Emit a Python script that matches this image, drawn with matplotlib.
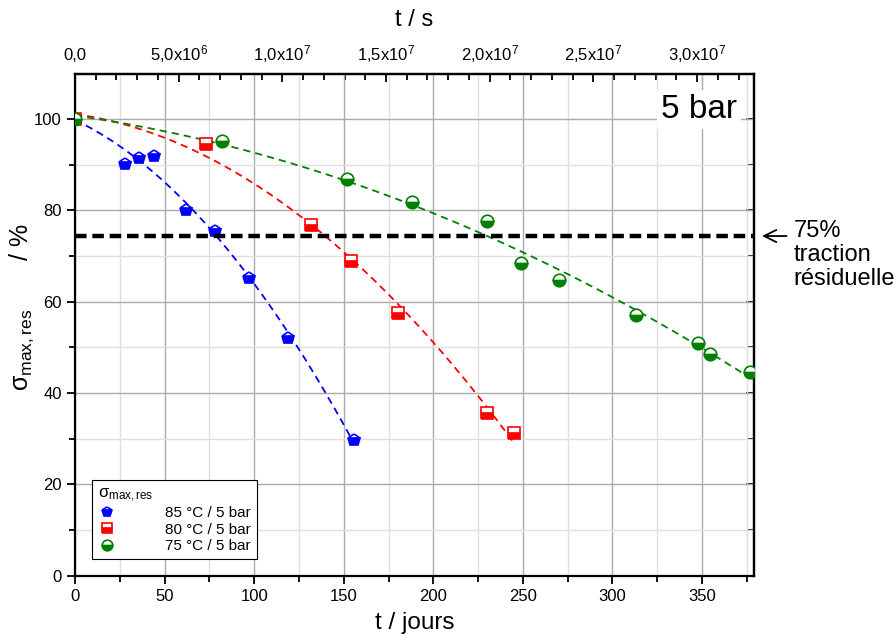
import numpy as np
import matplotlib
matplotlib.use("Agg")
import matplotlib.pyplot as plt
from matplotlib.ticker import MultipleLocator, FixedLocator, NullFormatter
import matplotlib.transforms as mtransforms

plt.rcParams['font.family'] = ['Liberation Sans', 'DejaVu Sans']
plt.rcParams['mathtext.fontset'] = 'custom'
plt.rcParams['mathtext.rm'] = 'Liberation Sans'
plt.rcParams['mathtext.it'] = 'Liberation Sans:italic'

# valeurs (t en jours, sigma_max,res en %)
t_85 = [0, 28, 36, 44, 62, 78, 97, 119, 155.5]
s_85 = [100, 90.2, 91.6, 92.0, 80.1, 75.6, 65.3, 52.1, 29.7]

t_80 = [0, 73, 132, 154, 180.5, 230, 245]
s_80 = [100, 94.6, 76.9, 68.9, 57.5, 35.6, 31.2]

t_75 = [0, 82, 152, 188, 230, 249, 270, 313, 348, 354.5, 377]
s_75 = [100, 95.3, 86.8, 81.9, 77.6, 68.5, 64.8, 57.1, 50.9, 48.5, 44.6]

series = [
    ("85 °C / 5 bar", t_85, s_85, "blue", "p"),
    ("80 °C / 5 bar", t_80, s_80, "red", "s"),
    ("75 °C / 5 bar", t_75, s_75, "green", "o"),
]
seuil = 74.4
top_ticks = [0, 5e6, 1e7, 1.5e7, 2e7, 2.5e7, 3e7]
top_labels = ["0,0", r"5,0x10$^{6}$", r"1,0x10$^{7}$", r"1,5x10$^{7}$",
              r"2,0x10$^{7}$", r"2,5x10$^{7}$", r"3,0x10$^{7}$"]
sig = r"σ$_{\mathregular{max,res}}$"

fig = plt.figure(figsize=(8.96, 6.37), dpi=100)
ax = fig.add_axes([0.0837, 0.0965, 0.7578, 0.788])

handles = []
for label, t, s, c, m in series:
    t = np.asarray(t, float)
    s = np.asarray(s, float)
    coef = np.polyfit(t, s, 2)
    tt = np.linspace(0, t.max(), 200)
    ax.plot(tt, np.polyval(coef, tt), color=c, lw=1.3, ls=(0, (4, 2.8)), zorder=3)
    h, = ax.plot(t, s, ls="none", marker=m, ms=9, color=c, mec=c, mfc=c,
                 fillstyle="bottom", markerfacecoloralt="white", mew=1.2,
                 label=label, zorder=4)
    handles.append(h)

ax.axhline(seuil, color="black", lw=3.2, ls=(0, (2.6, 1.3)), zorder=5, clip_on=False)

ax.set_xlim(0, 379)
ax.set_ylim(0, 110)
ax.xaxis.set_major_locator(MultipleLocator(50))
ax.xaxis.set_minor_locator(MultipleLocator(25))
ax.yaxis.set_major_locator(FixedLocator([0, 20, 40, 60, 80, 100]))
ax.yaxis.set_minor_locator(FixedLocator([10, 30, 50, 70, 90]))
ax.grid(which="major", color="#aaaaaa", lw=1.0, zorder=0)
ax.grid(which="minor", color="#e0e0e0", lw=1.0, zorder=0)
ax.set_axisbelow(True)
ax.tick_params(which="both", direction="out", labelsize=12, width=1.3, color="black")
ax.tick_params(which="major", length=6)
ax.tick_params(which="minor", length=4)
for sp in ax.spines.values():
    sp.set_linewidth(1.6)

ax.set_xlabel("t / jours", fontsize=17.5, labelpad=6)
ax.set_ylabel(sig + "       / %", fontsize=18)
ax.yaxis.set_label_coords(-0.058, 0.535)

# axe du haut : secondes
sec = ax.secondary_xaxis("top", functions=(lambda d: d * 86400.0, lambda s: s / 86400.0))
sec.xaxis.set_major_locator(FixedLocator(top_ticks))
sec.xaxis.set_minor_locator(MultipleLocator(1e6))
sec.set_xticklabels(top_labels)
sec.tick_params(which="both", direction="in", labelsize=12, width=1.3, pad=9.5)
sec.tick_params(which="major", length=6)
sec.tick_params(which="minor", length=4)
for lbl in sec.xaxis.get_majorticklabels():
    lbl.set_verticalalignment("baseline")
sec.set_xlabel("t / s", fontsize=17, labelpad=12)
sec.spines["top"].set_linewidth(1.6)

# axe de droite sans étiquettes
rsec = ax.secondary_yaxis("right")
rsec.yaxis.set_major_locator(FixedLocator([0, 20, 40, 60, 80, 100]))
rsec.yaxis.set_minor_locator(FixedLocator([10, 30, 50, 70, 90]))
rsec.yaxis.set_major_formatter(NullFormatter())
rsec.tick_params(which="both", direction="in", width=1.3)
rsec.tick_params(which="major", length=6)
rsec.tick_params(which="minor", length=4)
rsec.spines["right"].set_linewidth(1.6)

tr = mtransforms.blended_transform_factory(ax.transAxes, ax.transData)
ax.text(0.975, 100.2, "5 bar", transform=tr, ha="right", va="baseline", fontsize=24,
        bbox=dict(facecolor="white", edgecolor="none", pad=3), zorder=6)

ax.annotate("", xy=(1.012, seuil), xycoords=tr, xytext=(1.048, seuil), textcoords=tr,
            arrowprops=dict(arrowstyle="->", lw=1.3, color="black", mutation_scale=22,
                            shrinkA=0, shrinkB=0), annotation_clip=False)
ax.text(1.058, seuil + 3.6, "75%\ntraction\nrésiduelle", transform=tr, ha="left", va="top",
        fontsize=17, linespacing=1.12)

leg = ax.legend(handles=handles, loc="lower left", bbox_to_anchor=(0.025, 0.033),
                borderaxespad=0, fontsize=11, title=sig, title_fontsize=12,
                fancybox=False, framealpha=1, edgecolor="black",
                handlelength=1.2, handletextpad=3.2, borderpad=0.4, labelspacing=0.15,
                alignment="left", markerscale=0.85)
leg.get_frame().set_linewidth(0.8)

fig.savefig("out.png", dpi=100)
